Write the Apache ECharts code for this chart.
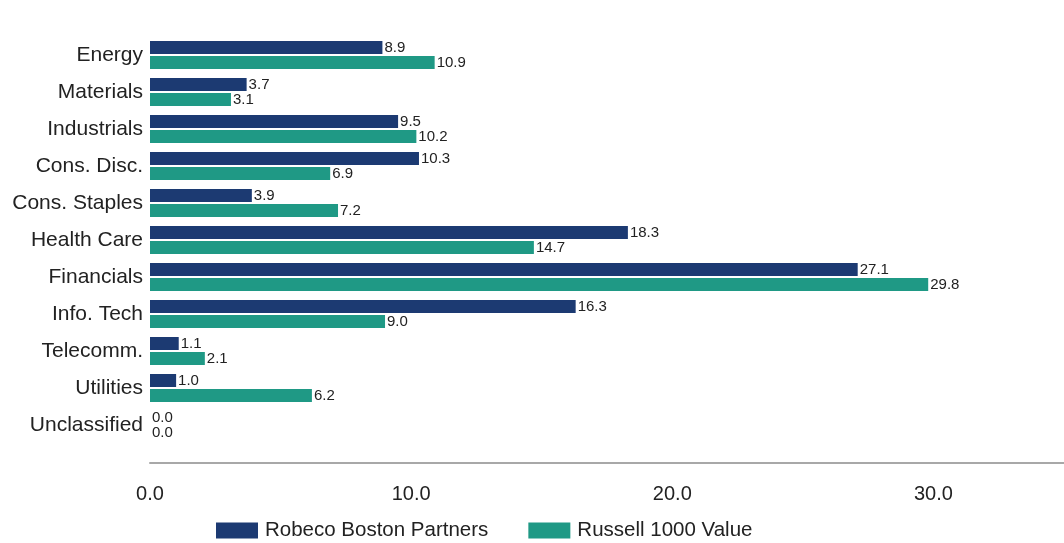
<!DOCTYPE html>
<html>
<head>
<meta charset="utf-8">
<script src="https://cdn.jsdelivr.net/npm/echarts@6/dist/echarts.min.js"></script>
<style>
html,body{margin:0;padding:0;background:#fff;}
#chart{width:1064px;height:543px;}
</style>
</head>
<body>
<div id="chart"></div>
<script>
const categories = ['Energy','Materials','Industrials','Cons. Disc.','Cons. Staples','Health Care','Financials','Info. Tech','Telecomm.','Utilities','Unclassified'];
const robeco = [8.9, 3.7, 9.5, 10.3, 3.9, 18.3, 27.1, 16.3, 1.1, 1.0, 0.0];
const russell = [10.9, 3.1, 10.2, 6.9, 7.2, 14.7, 29.8, 9.0, 2.1, 6.2, 0.0];
const seriesNames = ['Robeco Boston Partners', 'Russell 1000 Value'];
const xTicks = [0, 10, 20, 30];

const FONT = "'Liberation Sans', Arial, sans-serif";
const NAVY = '#1c3a72';
const TEAL = '#1f9985';

const chart = echarts.init(document.getElementById('chart'), null, {renderer: 'canvas'});
const labelCfg = {
  show: true,
  position: 'right',
  distance: 2,
  fontFamily: FONT,
  fontSize: 15,
  color: '#222',
  formatter: p => Number(p.value).toFixed(1)
};
chart.setOption({
  animation: false,
  backgroundColor: '#fff',
  grid: {left: 150, right: 0, top: 36.5, bottom: 99.5, containLabel: false},
  legend: {
    left: 211, top: 515,
    itemWidth: 42, itemHeight: 16, itemGap: 40,
    textStyle: {fontFamily: FONT, fontSize: 20.5, color: '#222', padding: [0, 0, 0, 2]},
    icon: 'rect',
    data: seriesNames
  },
  xAxis: {
    type: 'value', min: 0, max: 35, interval: 10,
    offset: 19,
    axisLine: {show: true, lineStyle: {color: '#a8a8a8', width: 2}},
    axisTick: {show: false},
    splitLine: {show: false},
    axisLabel: {
      fontFamily: FONT, fontSize: 20, color: '#222', margin: 22,
      showMaxLabel: false,
      formatter: v => xTicks.includes(v) ? v.toFixed(1) : ''
    }
  },
  yAxis: {
    type: 'category', data: categories, inverse: true,
    axisLine: {show: false}, axisTick: {show: false},
    axisLabel: {fontFamily: FONT, fontSize: 21, color: '#222', margin: 7}
  },
  series: [
    {name: seriesNames[0], type: 'bar', data: robeco, barWidth: 13, barGap: '15%',
     itemStyle: {color: NAVY}, label: labelCfg},
    {name: seriesNames[1], type: 'bar', data: russell, barWidth: 13, barGap: '15%',
     itemStyle: {color: TEAL}, label: labelCfg}
  ]
});
</script>
</body>
</html>
